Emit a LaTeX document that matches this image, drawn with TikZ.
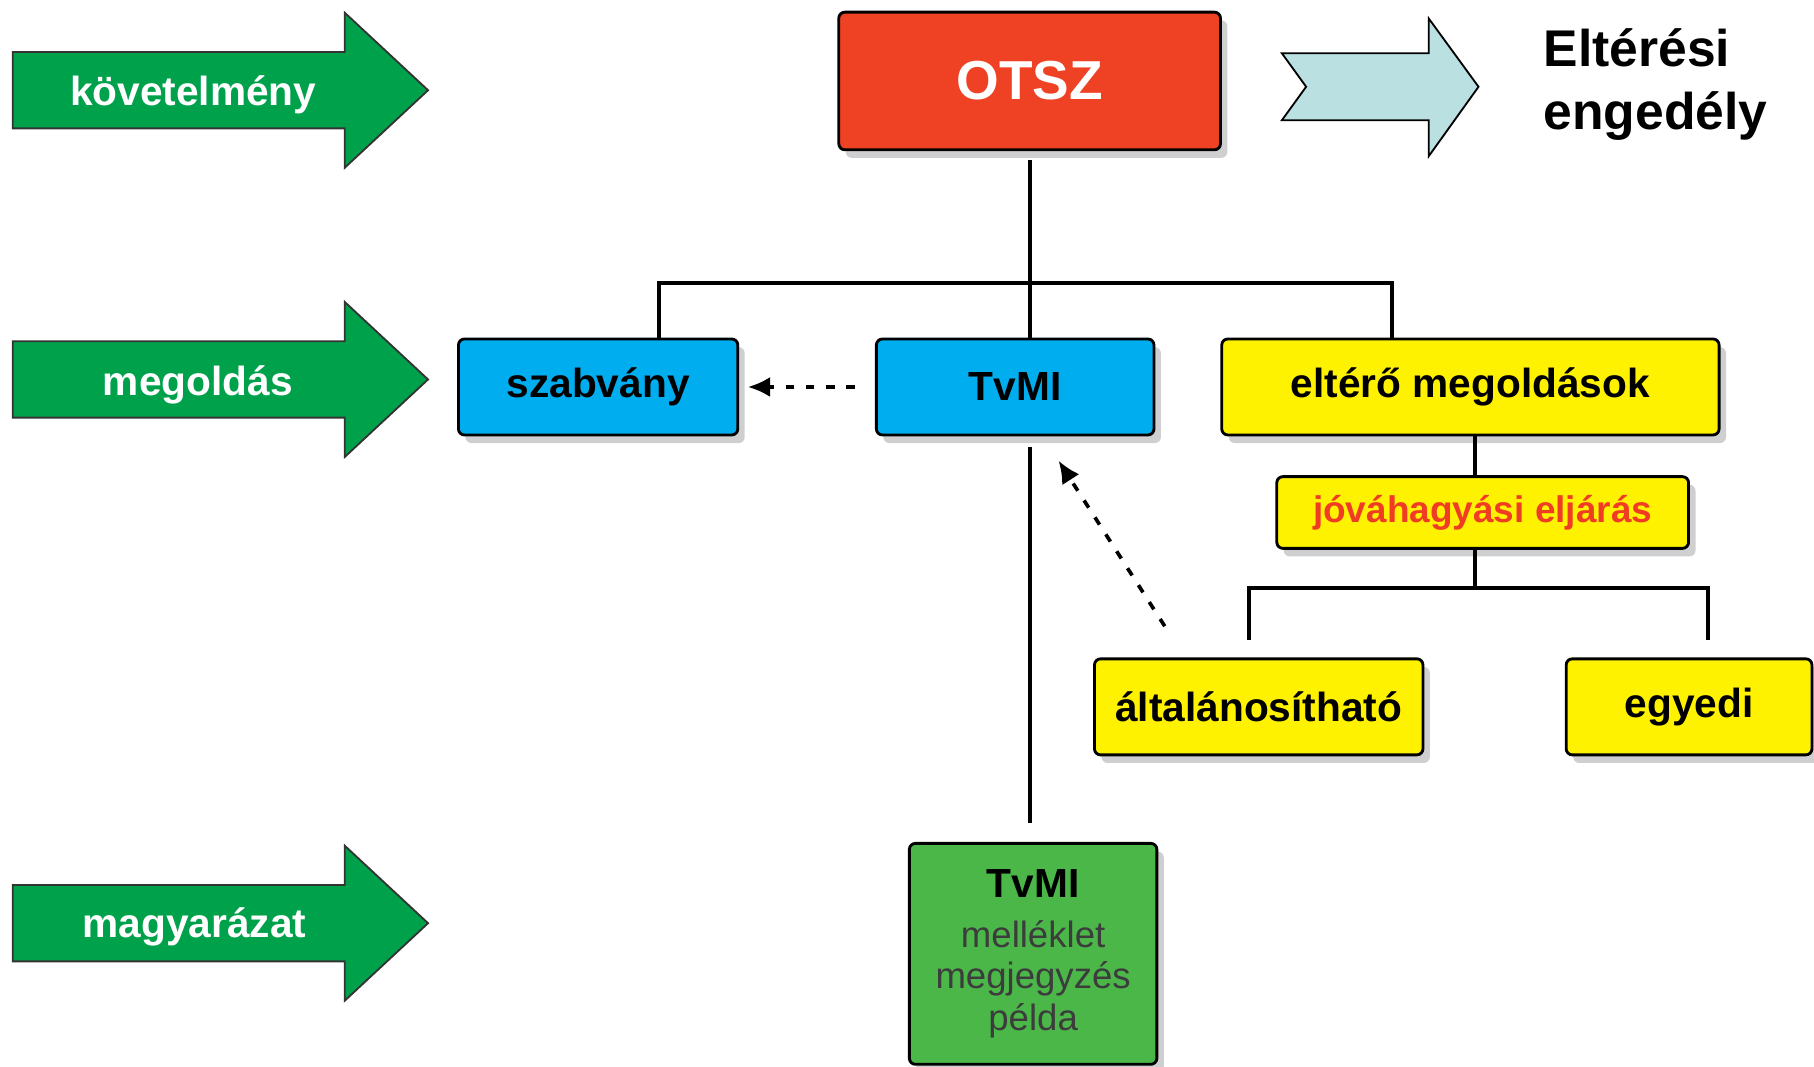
\documentclass[tikz,border=0pt]{standalone}
\usepackage{fontspec}
\setmainfont{Liberation Sans}
\usetikzlibrary{shadows,arrows.meta}
\definecolor{armgreen}{HTML}{00A14B}
\definecolor{boxgreen}{HTML}{4BB749}
\definecolor{tvblue}{HTML}{00AEEF}
\definecolor{altyellow}{HTML}{FFF200}
\definecolor{otszred}{HTML}{EF4123}
\definecolor{procred}{HTML}{F03C24}
\definecolor{chevcyan}{HTML}{BAE0E2}
\definecolor{shadowgray}{HTML}{CFCFD1}
\definecolor{notegray}{HTML}{3C3C3C}
\def\notefont{\mdseries\fontsize{18}{20.4}\selectfont\color{notegray}}
\tikzset{
	box/.style={draw=black, line width=1.4pt, rounded corners=3pt, inner sep=0pt, minimum height=1.66cm,
		font=\bfseries\fontsize{20}{24}\selectfont,
		drop shadow={shadow xshift=0.12cm, shadow yshift=-0.14cm, fill=shadowgray, opacity=1}},
	conn/.style={line width=2pt},
	dotarrow/.style={line width=1.8pt, dash pattern=on 4.2pt off 5.7pt, -{Latex[length=11pt,width=10pt]}},
	greenarr/.style={fill=armgreen, draw=black!80, line width=0.9pt},
	armtext/.style={text=white, inner sep=0pt, font=\bfseries\fontsize{20}{24}\selectfont}
}

\begin{document}
\begin{tikzpicture}[x=0.02cm, y=-0.02cm]
		%%%%% START %%%%%
		\useasboundingbox (0,0) rectangle (1568,922);
		\clip (0,0) rectangle (1568,922);
		
		\foreach \yc in {78,328,798}
			\draw[greenarr] (11,\yc-33) -- (298,\yc-33) -- (298,\yc-67) -- (370,\yc) -- (298,\yc+67) -- (298,\yc+33) -- (11,\yc+33) -- cycle;
		\node[armtext] (req) at (167,82) {követelmény};
		\node[armtext] (sol) at (171,333) {megoldás};
		\node[armtext] (expl) at (168,801) {magyarázat};
		
		\draw[fill=chevcyan, draw=black, line width=0.9pt] (1108,46) -- (1235,46) -- (1235,16) -- (1278,75) -- (1235,135) -- (1235,104) -- (1108,104) -- (1129,75) -- cycle;
		\node[anchor=west, inner sep=0pt, align=left, font=\bfseries\fontsize{25.4}{31}\selectfont] (perm) at (1334,73) {Eltérési\\engedély};
		
		\node[box, fill=otszred, minimum width=6.6cm, minimum height=2.38cm, text=white, font=\bfseries\fontsize{27}{32}\selectfont] (otsz) at (890,70) {OTSZ};
		\node[box, fill=tvblue, minimum width=4.83cm] (szab) at (517,334.5) {szabvány};
		\node[box, fill=tvblue, minimum width=4.8cm] (tvmi) at (877.5,334.5) {TvMI};
		\node[box, fill=altyellow, minimum width=8.6cm] (elt) at (1271,334.5) {eltérő megoldások};
		\node[box, fill=altyellow, minimum width=7.12cm, minimum height=1.24cm, text=procred, font=\bfseries\fontsize{18.2}{22}\selectfont] (jov) at (1281.6,443) {jóváhagyási eljárás};
		\node[box, fill=altyellow, minimum width=5.68cm] (alt) at (1088,611) {általánosítható};
		\node[box, fill=altyellow, minimum width=4.25cm] (egy) at (1460,611) {egyedi};
		\node[box, fill=boxgreen, minimum width=4.28cm, minimum height=3.82cm, align=center, font=\notefont] (tvmix) at (893,824.5)
			{{\bfseries\fontsize{20}{20.4}\selectfont\color{black}TvMI}\\[4pt]melléklet\\megjegyzés\\példa};
		
		\coordinate (topfork) at (890,245);
		\coordinate (lowfork) at (1275,508);
		\draw[conn, shorten <=0.16cm] (otsz.south) -- (otsz.south |- tvmi.north);
		\draw[conn] ([xshift=1.06cm]szab.north) |- (topfork) -| ([xshift=-1.36cm]elt.north);
		\draw[conn, shorten <=0.18cm, shorten >=0.32cm] (tvmi.south -| otsz.south) -- (tvmix.north -| otsz.south);
		\draw[conn] (elt.south -| lowfork) -- (jov.north -| lowfork);
		\draw[conn] (jov.south -| lowfork) -- (lowfork);
		\draw[conn, shorten <=0.3cm, shorten >=0.3cm] ([xshift=-0.16cm]alt.north) |- (lowfork) -| ([xshift=0.32cm]egy.north);
		
		\draw[dotarrow] ([xshift=-0.35cm]tvmi.west) -- ([xshift=0.15cm]szab.east);
		\draw[dotarrow] ([xshift=1.24cm,yshift=0.54cm]alt.north west) -- ([xshift=0.75cm,yshift=-0.42cm]tvmi.south);
		
		%%%%% END %%%%%
	\end{tikzpicture}
\end{document}
